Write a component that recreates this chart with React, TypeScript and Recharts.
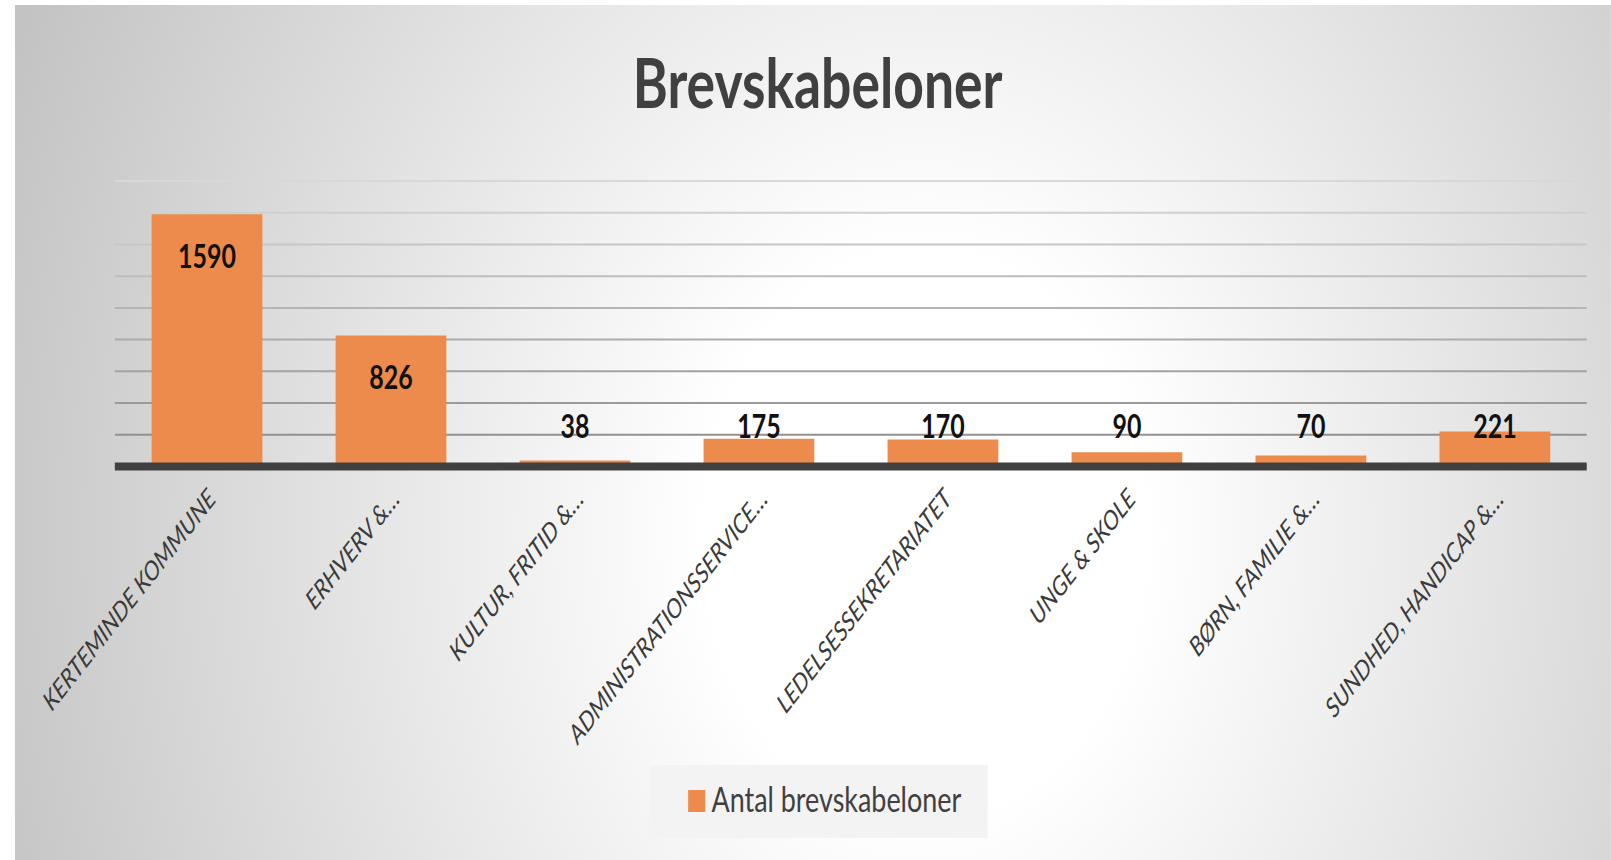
import React from "react";
import { BarChart, Bar, XAxis, YAxis, CartesianGrid, Legend, LabelList } from "recharts";

const chartTitle = "Brevskabeloner";
const seriesName = "Antal brevskabeloner";
const categories = [
  "KERTEMINDE KOMMUNE",
  "ERHVERV &…",
  "KULTUR, FRITID &…",
  "ADMINISTRATIONSSERVICE…",
  "LEDELSESSEKRETARIATET",
  "UNGE & SKOLE",
  "BØRN, FAMILIE &…",
  "SUNDHED, HANDICAP &…",
];
const values = [1590, 826, 38, 175, 170, 90, 70, 221];
const yTicks = [0, 200, 400, 600, 800, 1000, 1200, 1400, 1600, 1800];

const data = categories.map((name, i) => ({ name, value: values[i] }));

const SQUEEZE = 0.78;
const W = 2046;
const H = 855;
const FONT = "Lato, 'Open Sans', sans-serif";

const BarValueLabel = (props: any) => {
  const { x, y, width, height, value } = props;
  const base = y + height;
  const ty = Math.min(y + 53.5, base - 28.5);
  return (
    <text
      x={x + width / 2}
      y={ty}
      textAnchor="middle"
      fontFamily={FONT}
      fontWeight={700}
      fontSize={32}
      fill="#111111"
    >
      {value}
    </text>
  );
};

const CategoryTick = (props: any) => {
  const { x, y, payload } = props;
  const tx = x + 13;
  const ty = y + 26;
  return (
    <text
      x={tx}
      y={ty}
      textAnchor="end"
      transform={`rotate(-45, ${tx}, ${ty})`}
      fontFamily={FONT}
      fontStyle="italic"
      fontSize={27}
      fill="#3a3a3a"
    >
      {payload.value}
    </text>
  );
};

const LegendContent = () => (
  <div
    style={{
      width: 433,
      height: 73,
      background: "#f3f3f3",
      position: "relative",
      fontFamily: FONT,
    }}
  >
    <div
      style={{
        position: "absolute",
        left: 49,
        top: 25,
        width: 22,
        height: 22,
        background: "#EC8B4B",
      }}
    />
    <div
      style={{
        position: "absolute",
        left: 79,
        top: 14,
        fontSize: 34.5,
        lineHeight: "40px",
        color: "#404040",
        whiteSpace: "nowrap",
      }}
    >
      {seriesName}
    </div>
  </div>
);

export default function App() {
  return (
    <>
      <style>{`html,body{margin:0;overflow:hidden;}`}</style>
      <div
        style={{
          position: "absolute",
          left: 15,
          top: 5,
          width: W,
          height: H,
          transform: `scaleX(${SQUEEZE})`,
          transformOrigin: "0 0",
          background:
            "radial-gradient(circle farthest-corner at 57% 62%, #ffffff 0%, #ffffff 22%, #e8e8e8 52%, #c2c2c2 100%)",
        }}
      >
        <BarChart
          width={W}
          height={H}
          data={data}
          margin={{ top: 176, right: 31, left: 128, bottom: 0 }}
          barCategoryGap="20%"
        >
          <defs>
            <linearGradient id="gridGrad" gradientUnits="userSpaceOnUse" x1="0" y1="176" x2="0" y2="462">
              <stop offset="0%" stopColor="#d8d8d8" />
              <stop offset="100%" stopColor="#888888" />
            </linearGradient>
          </defs>
          <text
            x={1029}
            y={103}
            textAnchor="middle"
            fontFamily={FONT}
            fontWeight={700}
            fontSize={68.5}
            fill="#404040"
          >
            {chartTitle}
          </text>
          <CartesianGrid vertical={false} stroke="url(#gridGrad)" strokeWidth={2} />
          <YAxis hide domain={[0, 1800]} ticks={yTicks} />
          <XAxis
            dataKey="name"
            interval={0}
            tickLine={false}
            axisLine={{ stroke: "#404040", strokeWidth: 8 }}
            tick={<CategoryTick />}
            height={320.5}
          />
          <Legend
            verticalAlign="bottom"
            content={<LegendContent />}
            wrapperStyle={{ position: "absolute", left: 814, top: 760, width: 433, height: 73, bottom: "auto" }}
          />
          <Bar dataKey="value" name={seriesName} fill="#EC8B4B" isAnimationActive={false}>
            <LabelList dataKey="value" content={<BarValueLabel />} />
          </Bar>
        </BarChart>
      </div>
    </>
  );
}
